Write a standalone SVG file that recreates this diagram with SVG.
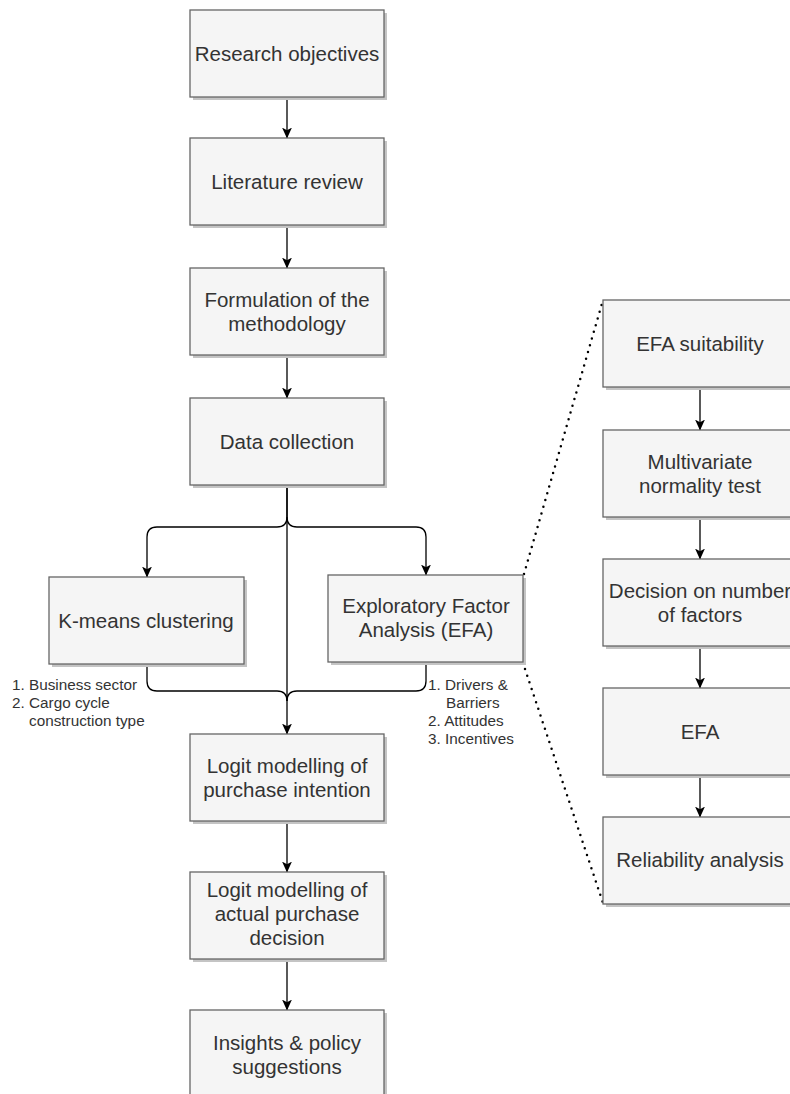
<svg xmlns="http://www.w3.org/2000/svg" width="790" height="1094" viewBox="0 0 790 1094">
<defs>
<style>
.box{fill:#f5f5f5;stroke:#666666;stroke-width:1.3}
.sh{fill:#c4c4c4}
.t{font-family:"Liberation Sans",Arial,sans-serif;font-size:20.5px;fill:#333333;text-anchor:middle}
.lb{font-family:"Liberation Sans",Arial,sans-serif;font-size:15.3px;fill:#333333}
.c{fill:none;stroke:#000000;stroke-width:1.3}
.dot{fill:none;stroke:#000000;stroke-width:2.5;stroke-linecap:round;stroke-dasharray:0 7}
</style>
<marker id="ar" viewBox="0 0 10 10" refX="9.5" refY="5" markerWidth="11" markerHeight="11" markerUnits="userSpaceOnUse" orient="auto">
<path d="M0,0.5 L10,5 L0,9.5 L2.5,5 Z" fill="#000000"/>
</marker>
</defs>
<rect width="790" height="1094" fill="#ffffff"/>

<g id="connectors">
<path class="c" d="M287,97 L287,138" marker-end="url(#ar)"/>
<path class="c" d="M287,225 L287,268" marker-end="url(#ar)"/>
<path class="c" d="M287,355 L287,398" marker-end="url(#ar)"/>
<path class="c" d="M287,486 L287,734" marker-end="url(#ar)"/>
<path class="c" d="M287,486 L287,517 Q287,527 277,527 L157,527 Q147,527 147,537 L147,577" marker-end="url(#ar)"/>
<path class="c" d="M287,517 Q287,527 297,527 L416,527 Q426,527 426,537 L426,575" marker-end="url(#ar)"/>
<path class="c" d="M147,664 L147,681 Q147,691 157,691 L277,691 Q287,691 287,701"/>
<path class="c" d="M426,662 L426,681 Q426,691 416,691 L297,691 Q287,691 287,701"/>
<path class="c" d="M287,821 L287,872" marker-end="url(#ar)"/>
<path class="c" d="M287,959 L287,1010" marker-end="url(#ar)"/>
<path class="c" d="M700,387 L700,430" marker-end="url(#ar)"/>
<path class="c" d="M700,517 L700,559" marker-end="url(#ar)"/>
<path class="c" d="M700,646 L700,688" marker-end="url(#ar)"/>
<path class="c" d="M700,775 L700,817" marker-end="url(#ar)"/>
<path class="dot" d="M524,574 L603,300"/>
<path class="dot" d="M525,669 L603,903"/>
</g>

<g id="n-research">
<rect class="sh" x="193" y="13" width="194" height="87"/>
<rect class="box" x="190" y="10" width="194" height="87"/>
<text class="t" x="287" y="61">Research objectives</text>
</g>
<g id="n-literature">
<rect class="sh" x="193" y="141" width="194" height="87"/>
<rect class="box" x="190" y="138" width="194" height="87"/>
<text class="t" x="287" y="189">Literature review</text>
</g>
<g id="n-formulation">
<rect class="sh" x="193" y="271" width="194" height="87"/>
<rect class="box" x="190" y="268" width="194" height="87"/>
<text class="t" x="287" y="307">Formulation of the</text>
<text class="t" x="287" y="331">methodology</text>
</g>
<g id="n-data">
<rect class="sh" x="193" y="401" width="194" height="87"/>
<rect class="box" x="190" y="398" width="194" height="87"/>
<text class="t" x="287" y="449">Data collection</text>
</g>
<g id="n-kmeans">
<rect class="sh" x="52" y="580" width="195" height="87"/>
<rect class="box" x="49" y="577" width="195" height="87"/>
<text class="t" x="146" y="628">K-means clustering</text>
</g>
<g id="n-efa-main">
<rect class="sh" x="331" y="578" width="195" height="87"/>
<rect class="box" x="328" y="575" width="195" height="87"/>
<text class="t" x="426" y="613">Exploratory Factor</text>
<text class="t" x="426" y="637">Analysis (EFA)</text>
</g>
<g id="lbl-kmeans">
<text class="lb" x="12" y="690">1. Business sector</text>
<text class="lb" x="12" y="708">2. Cargo cycle</text>
<text class="lb" x="29" y="726">construction type</text>
</g>
<g id="lbl-efa">
<text class="lb" x="428" y="690">1. Drivers &amp;</text>
<text class="lb" x="446" y="708">Barriers</text>
<text class="lb" x="428" y="726">2. Attitudes</text>
<text class="lb" x="428" y="744">3. Incentives</text>
</g>
<g id="n-logit-intention">
<rect class="sh" x="193" y="737" width="194" height="87"/>
<rect class="box" x="190" y="734" width="194" height="87"/>
<text class="t" x="287" y="773">Logit modelling of</text>
<text class="t" x="287" y="797">purchase intention</text>
</g>
<g id="n-logit-actual">
<rect class="sh" x="193" y="875" width="194" height="87"/>
<rect class="box" x="190" y="872" width="194" height="87"/>
<text class="t" x="287" y="897">Logit modelling of</text>
<text class="t" x="287" y="921">actual purchase</text>
<text class="t" x="287" y="945">decision</text>
</g>
<g id="n-insights">
<rect class="sh" x="193" y="1013" width="194" height="87"/>
<rect class="box" x="190" y="1010" width="194" height="87"/>
<text class="t" x="287" y="1050">Insights &amp; policy</text>
<text class="t" x="287" y="1074">suggestions</text>
</g>

<g id="n-efa-suitability">
<rect class="sh" x="606" y="303" width="194" height="87"/>
<rect class="box" x="603" y="300" width="194" height="87"/>
<text class="t" x="700" y="351">EFA suitability</text>
</g>
<g id="n-multivariate">
<rect class="sh" x="606" y="433" width="194" height="87"/>
<rect class="box" x="603" y="430" width="194" height="87"/>
<text class="t" x="700" y="469">Multivariate</text>
<text class="t" x="700" y="493">normality test</text>
</g>
<g id="n-decision">
<rect class="sh" x="606" y="562" width="194" height="87"/>
<rect class="box" x="603" y="559" width="194" height="87"/>
<text class="t" x="700" y="598">Decision on number</text>
<text class="t" x="700" y="622">of factors</text>
</g>
<g id="n-efa">
<rect class="sh" x="606" y="691" width="194" height="87"/>
<rect class="box" x="603" y="688" width="194" height="87"/>
<text class="t" x="700" y="739">EFA</text>
</g>
<g id="n-reliability">
<rect class="sh" x="606" y="820" width="194" height="87"/>
<rect class="box" x="603" y="817" width="194" height="87"/>
<text class="t" x="700" y="867">Reliability analysis</text>
</g>
</svg>
